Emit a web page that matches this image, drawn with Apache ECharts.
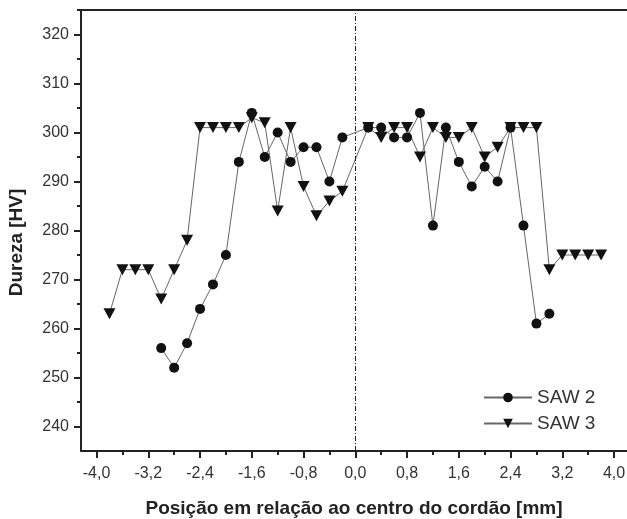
<!DOCTYPE html>
<html>
<head>
<meta charset="utf-8">
<script src="https://cdn.jsdelivr.net/npm/echarts@6/dist/echarts.min.js"></script>
<style>
  html, body { margin: 0; padding: 0; background: #fff; }
  #chart { width: 627px; height: 519px; }
</style>
</head>
<body>
<div id="chart"></div>
<script>
// posição (mm) e dureza (HV)
const posSaw2 = [-3.0, -2.8, -2.6, -2.4, -2.2, -2.0, -1.8, -1.6, -1.4, -1.2, -1.0, -0.8, -0.6, -0.4, -0.2,
  0.2, 0.4, 0.6, 0.8, 1.0, 1.2, 1.4, 1.6, 1.8, 2.0, 2.2, 2.4, 2.6, 2.8, 3.0]
const saw2 = [256, 252, 257, 264, 269, 275, 294, 304, 295, 300, 294, 297, 297, 290, 299,
  301, 301, 299, 299, 304, 281, 301, 294, 289, 293, 290, 301, 281, 261, 263]

const posSaw3 = [-3.8, -3.6, -3.4, -3.2, -3.0, -2.8, -2.6, -2.4, -2.2, -2.0, -1.8, -1.6, -1.4, -1.2, -1.0, -0.8, -0.6, -0.4, -0.2,
  0.2, 0.4, 0.6, 0.8, 1.0, 1.2, 1.4, 1.6, 1.8, 2.0, 2.2, 2.4, 2.6, 2.8, 3.0, 3.2, 3.4, 3.6, 3.8]
const saw3 = [263, 272, 272, 272, 266, 272, 278, 301, 301, 301, 301, 303, 302, 284, 301, 289, 283, 286, 288,
  301, 299, 301, 301, 295, 301, 299, 299, 301, 295, 297, 301, 301, 301, 272, 275, 275, 275, 275]

const xTicks = [-4.0, -3.2, -2.4, -1.6, -0.8, 0.0, 0.8, 1.6, 2.4, 3.2, 4.0]
const xMinorTicks = [-3.6, -2.8, -2.0, -1.2, -0.4, 0.4, 1.2, 2.0, 2.8, 3.6]
const yTicks = [240, 250, 260, 270, 280, 290, 300, 310, 320]
const yMinorTicks = [245, 255, 265, 275, 285, 295, 305, 315, 325]

const fontFamily = 'Liberation Sans, Arial, sans-serif'
const axisColor = '#222'
const xMin = -4.24
const xMax = 4.2
const yMin = 235
const yMax = 325

const chart = echarts.init(document.getElementById('chart'))

const pairs = (xs, ys) => xs.map((x, i) => [x, ys[i]])

const option = {
  backgroundColor: '#fff',
  animation: false,
  textStyle: { fontFamily },
  grid: { left: 81, right: 0, top: 10, bottom: 68, outerBoundsMode: 'none', containLabel: false },
  legend: {
    orient: 'vertical',
    left: 478,
    top: 383,
    itemWidth: 48,
    itemHeight: 12,
    itemGap: 7,
    textStyle: { fontSize: 19, color: '#333', fontFamily },
    data: ['SAW 2', 'SAW 3']
  },
  xAxis: [
    {
      type: 'value',
      min: xMin,
      max: xMax,
      name: 'Posição em relação ao centro do cordão [mm]',
      nameLocation: 'middle',
      nameGap: 48,
      nameTextStyle: { fontSize: 19, fontWeight: 'bold', color: '#222' },
      axisLine: { show: true, onZero: false, lineStyle: { color: axisColor, width: 2 } },
      axisTick: { show: true, customValues: xTicks, length: 7, lineStyle: { color: axisColor, width: 2 } },
      axisLabel: {
        customValues: xTicks,
        margin: 15,
        fontSize: 16,
        color: '#333',
        formatter: (v) => v.toFixed(1).replace('.', ',')
      },
      splitLine: { show: false }
    },
    {
      type: 'value',
      min: xMin,
      max: xMax,
      position: 'bottom',
      axisLine: { show: false, onZero: false },
      axisTick: { show: true, customValues: xMinorTicks, length: 4, lineStyle: { color: axisColor, width: 2 } },
      axisLabel: { show: false },
      splitLine: { show: false }
    },
    {
      type: 'value',
      min: xMin,
      max: xMax,
      position: 'top',
      axisLine: { show: true, onZero: false, lineStyle: { color: axisColor, width: 2 } },
      axisTick: { show: false },
      axisLabel: { show: false },
      splitLine: { show: false }
    }
  ],
  yAxis: [
    {
      type: 'value',
      min: yMin,
      max: yMax,
      name: 'Dureza [HV]',
      nameLocation: 'middle',
      nameGap: 55,
      nameTextStyle: { fontSize: 19, fontWeight: 'bold', color: '#222', padding: [0, 24, 0, 0] },
      axisLine: { show: true, onZero: false, lineStyle: { color: axisColor, width: 2 } },
      axisTick: { show: true, customValues: yTicks, length: 7, lineStyle: { color: axisColor, width: 2 } },
      axisLabel: { customValues: yTicks, margin: 12, fontSize: 16, color: '#333' },
      splitLine: { show: false }
    },
    {
      type: 'value',
      min: yMin,
      max: yMax,
      position: 'left',
      axisLine: { show: false, onZero: false },
      axisTick: { show: true, customValues: yMinorTicks, length: 4, lineStyle: { color: axisColor, width: 2 } },
      axisLabel: { show: false },
      splitLine: { show: false }
    }
  ],
  series: [
    {
      name: 'SAW 2',
      type: 'line',
      data: pairs(posSaw2, saw2),
      symbol: 'circle',
      symbolSize: 10,
      itemStyle: { color: '#111' },
      lineStyle: { color: '#666', width: 1 },
      markLine: {
        silent: true,
        symbol: 'none',
        label: { show: false },
        lineStyle: { color: '#222', width: 1, type: [5, 2, 1, 2] },
        data: [{ xAxis: 0 }]
      }
    },
    {
      name: 'SAW 3',
      type: 'line',
      data: pairs(posSaw3, saw3),
      symbol: 'triangle',
      symbolRotate: 180,
      symbolSize: [12, 11],
      itemStyle: { color: '#111' },
      lineStyle: { color: '#666', width: 1 }
    }
  ]
}

chart.setOption(option)
window.addEventListener('resize', () => {
  chart.resize()
})
</script>
</body>
</html>
